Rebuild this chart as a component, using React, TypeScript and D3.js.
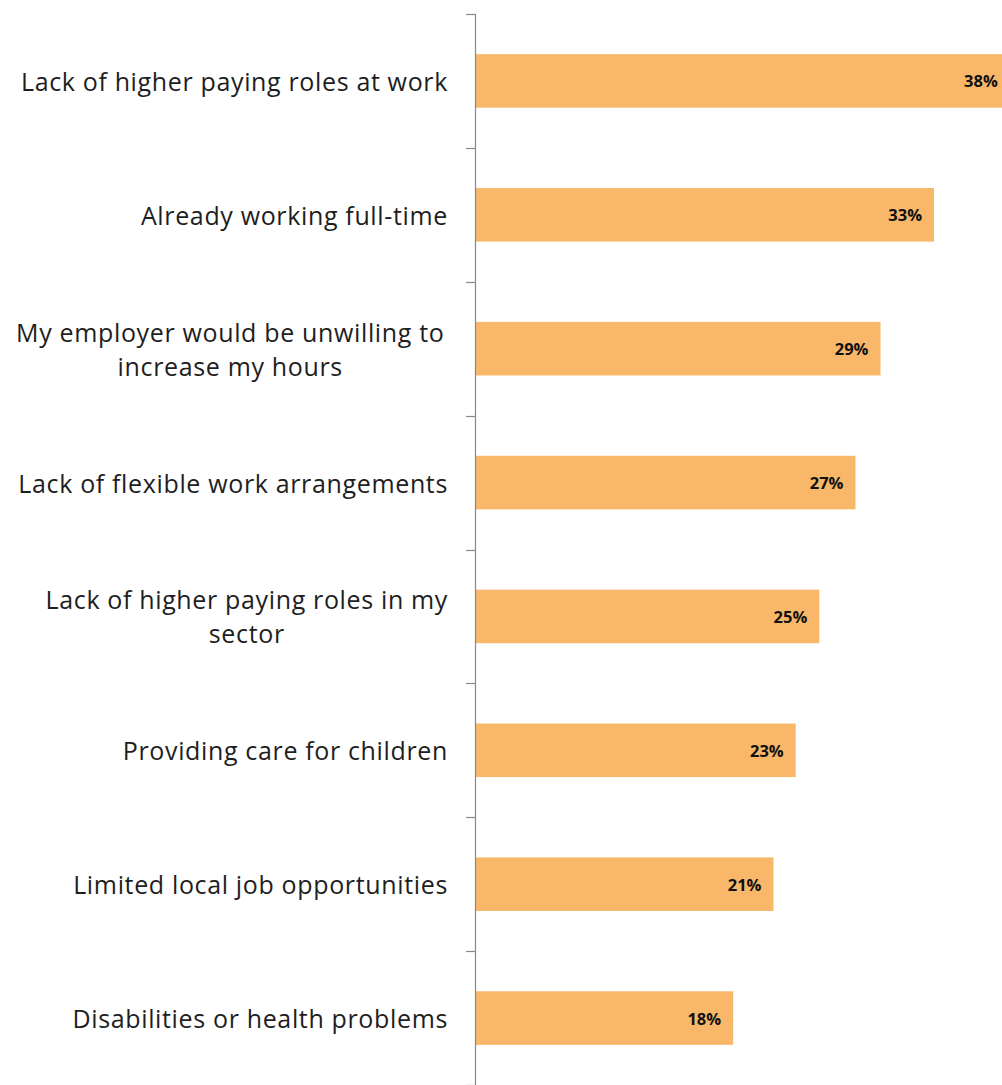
import React from "react";
import * as d3 from "d3";

const categories: string[][] = [
  ["Lack of higher paying roles at work"],
  ["Already working full-time"],
  ["My employer would be unwilling to ", "increase my hours"],
  ["Lack of flexible work arrangements"],
  ["Lack of higher paying roles in my", "sector"],
  ["Providing care for children"],
  ["Limited local job opportunities"],
  ["Disabilities or health problems"],
];
const values: number[] = [38.4, 32.95, 29.1, 27.3, 24.7, 23.0, 21.4, 18.5];
const valueLabels: string[] = ["38%", "33%", "29%", "27%", "25%", "23%", "21%", "18%"];

const W = 1002;
const H = 1085;
const axisX = 475.5;
const top = 14;
const bottom = 1085;
const FONT = "'Open Sans', sans-serif";
const LABEL_SIZE = 25;
const LETTER = 0.65;

function measure(s: string): number {
  const c = document.createElement("canvas");
  const ctx = c.getContext("2d")!;
  ctx.font = `${LABEL_SIZE}px 'Open Sans'`;
  return ctx.measureText(s).width + LETTER * s.length;
}

export default function App() {
  const ids = categories.map((_, i) => String(i));
  const y = d3.scaleBand<string>().domain(ids).range([top, bottom]).paddingInner(0.6).paddingOuter(0.3);
  const band = d3.scaleBand<string>().domain(ids).range([top, bottom]);
  const x = d3.scaleLinear().domain([0, 40]).range([476, 476 + 556]);
  const lineH = 34;
  const labelRight = 448;

  return (
    <svg
      width={W}
      height={H}
      style={{ position: "absolute", left: 0, top: 0, background: "#fff" }}
      fontFamily={FONT}
    >
      {values.map((v, i) => {
        const yy = y(String(i))!;
        return (
          <g key={i}>
            <rect x={x(0)} y={yy} width={x(v) - x(0)} height={y.bandwidth()} fill="#F9B769" />
            <text
              x={x(v) - 12}
              y={yy + y.bandwidth() / 2}
              textAnchor="end"
              dominantBaseline="central"
              fontSize={16.5}
              fontWeight={700}
              fill="#111"
            >
              {valueLabels[i]}
            </text>
          </g>
        );
      })}
      <line x1={axisX} x2={axisX} y1={top} y2={bottom} stroke="#888" strokeWidth={1.2} />
      {d3.range(categories.length + 1).map((i) => {
        const ty = Math.round(top + band.step() * i) + 0.5;
        return <line key={i} x1={466} x2={axisX} y1={ty} y2={ty} stroke="#888" strokeWidth={1.2} />;
      })}
      {categories.map((lines, i) => {
        const cy = band(String(i))! + band.bandwidth() / 2;
        const y0 = cy - ((lines.length - 1) * lineH) / 2;
        const maxW = Math.max(...lines.map(measure));
        const cx = labelRight - maxW / 2;
        return (
          <text
            key={i}
            x={cx}
            textAnchor="middle"
            fontSize={LABEL_SIZE}
            letterSpacing={LETTER}
            fill="#1e1e1e"
            dominantBaseline="central"
          >
            {lines.map((l, j) => (
              <tspan key={j} x={cx} y={y0 + j * lineH}>
                {l.trim()}
              </tspan>
            ))}
          </text>
        );
      })}
    </svg>
  );
}
